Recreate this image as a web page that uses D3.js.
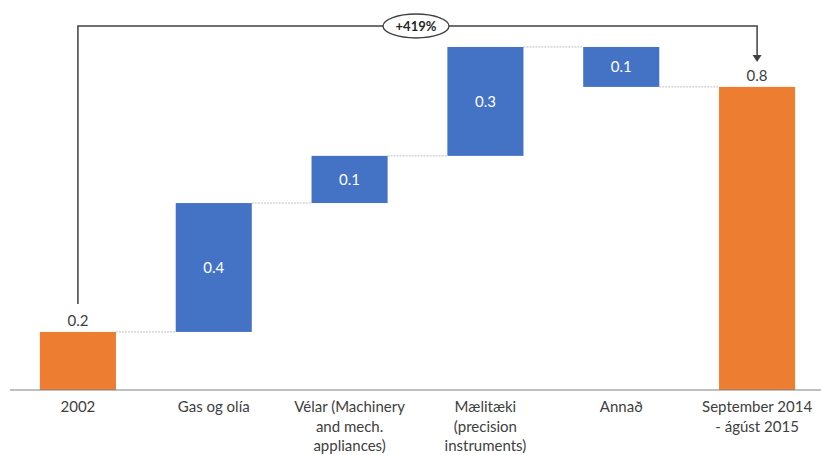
<!DOCTYPE html>
<html><head><meta charset="utf-8">
<script src="https://cdn.jsdelivr.net/npm/d3@7"></script>
<style>body{margin:0;background:#fff}svg{display:block;font-family:Lato,"Open Sans",sans-serif}</style>
</head><body><svg id="c" width="821" height="455"></svg>
<script>
const categories = ["2002", "Gas og olía", "Vélar (Machinery\nand mech.\nappliances)", "Mælitæki\n(precision\ninstruments)", "Annað", "September 2014\n- ágúst 2015"];
const startValue = 0.16;
const changes = [0.355, 0.13, 0.30, -0.11];
const growthLabel = "+419%";

const svg = d3.select("#c");
const W = 821, H = 455;
const x = d3.scaleBand().domain(categories).range([10, 825]).paddingInner(0.44).paddingOuter(0.22);
const y = d3.scaleLinear().domain([0, 1]).range([390, 27]);
const fmt = d3.format(".1f");

// build waterfall rows
const rows = [];
let run = startValue;
rows.push({cat: categories[0], y0: 0, y1: startValue, v: startValue, total: true});
changes.forEach((c, i) => {
  rows.push({cat: categories[i + 1], y0: run, y1: run + c, v: c, total: false});
  run += c;
});
rows.push({cat: categories[5], y0: 0, y1: run, v: run, total: true});

// connectors
for (let i = 0; i < rows.length - 1; i++) {
  const a = rows[i], b = rows[i + 1];
  svg.append("line")
    .attr("x1", x(a.cat) + x.bandwidth()).attr("x2", x(b.cat))
    .attr("y1", y(a.y1)).attr("y2", y(a.y1))
    .attr("stroke", "#bfbfbf").attr("stroke-width", 1).attr("stroke-dasharray", "2,1");
}

// bars
svg.selectAll("rect.bar").data(rows).join("rect")
  .attr("x", d => x(d.cat)).attr("width", x.bandwidth())
  .attr("y", d => y(Math.max(d.y0, d.y1)))
  .attr("height", d => Math.abs(y(d.y0) - y(d.y1)))
  .attr("fill", d => d.total ? "#ED7D31" : "#4472C4");

// value labels
svg.selectAll("text.val").data(rows).join("text")
  .attr("x", d => x(d.cat) + x.bandwidth() / 2)
  .attr("y", d => d.total ? y(d.y1) - 11 : (y(d.y0) + y(d.y1)) / 2)
  .attr("dy", "0.35em").attr("text-anchor", "middle")
  .attr("font-size", 15)
  .attr("fill", d => d.total ? "#404040" : "#ffffff")
  .text(d => fmt(Math.abs(d.v)));

// axis baseline
svg.append("line").attr("x1", 10).attr("x2", W).attr("y1", y(0)).attr("y2", y(0))
  .attr("stroke", "#808080").attr("stroke-width", 1.2);

// category labels
categories.forEach(c => {
  const t = svg.append("text").attr("text-anchor", "middle").attr("font-size", 15).attr("fill", "#404040");
  c.split("\n").forEach((line, i) => {
    t.append("tspan").attr("x", x(c) + x.bandwidth() / 2).attr("y", 412 + i * 19.5).text(line);
  });
});

// growth bracket
const xs = x(categories[0]) + x.bandwidth() / 2;
const xe = x(categories[5]) + x.bandwidth() / 2;
const topY = 26;
const ovalCx = 416;
svg.append("path")
  .attr("d", `M${xs},${y(startValue) - 28} V${topY} H${xe} V${y(run) - 30}`)
  .attr("fill", "none").attr("stroke", "#404040").attr("stroke-width", 1.5);
svg.append("path")
  .attr("d", `M${xe - 4.5},${y(run) - 32} L${xe + 4.5},${y(run) - 32} L${xe},${y(run) - 25} Z`)
  .attr("fill", "#404040");
svg.append("ellipse").attr("cx", ovalCx).attr("cy", topY).attr("rx", 33).attr("ry", 12)
  .attr("fill", "#fff").attr("stroke", "#404040").attr("stroke-width", 1.3);
svg.append("text").attr("x", ovalCx).attr("y", topY).attr("dy", "0.35em").attr("text-anchor", "middle")
  .attr("font-size", 13).attr("font-weight", "bold").attr("fill", "#262626").text(growthLabel);
</script></body></html>
